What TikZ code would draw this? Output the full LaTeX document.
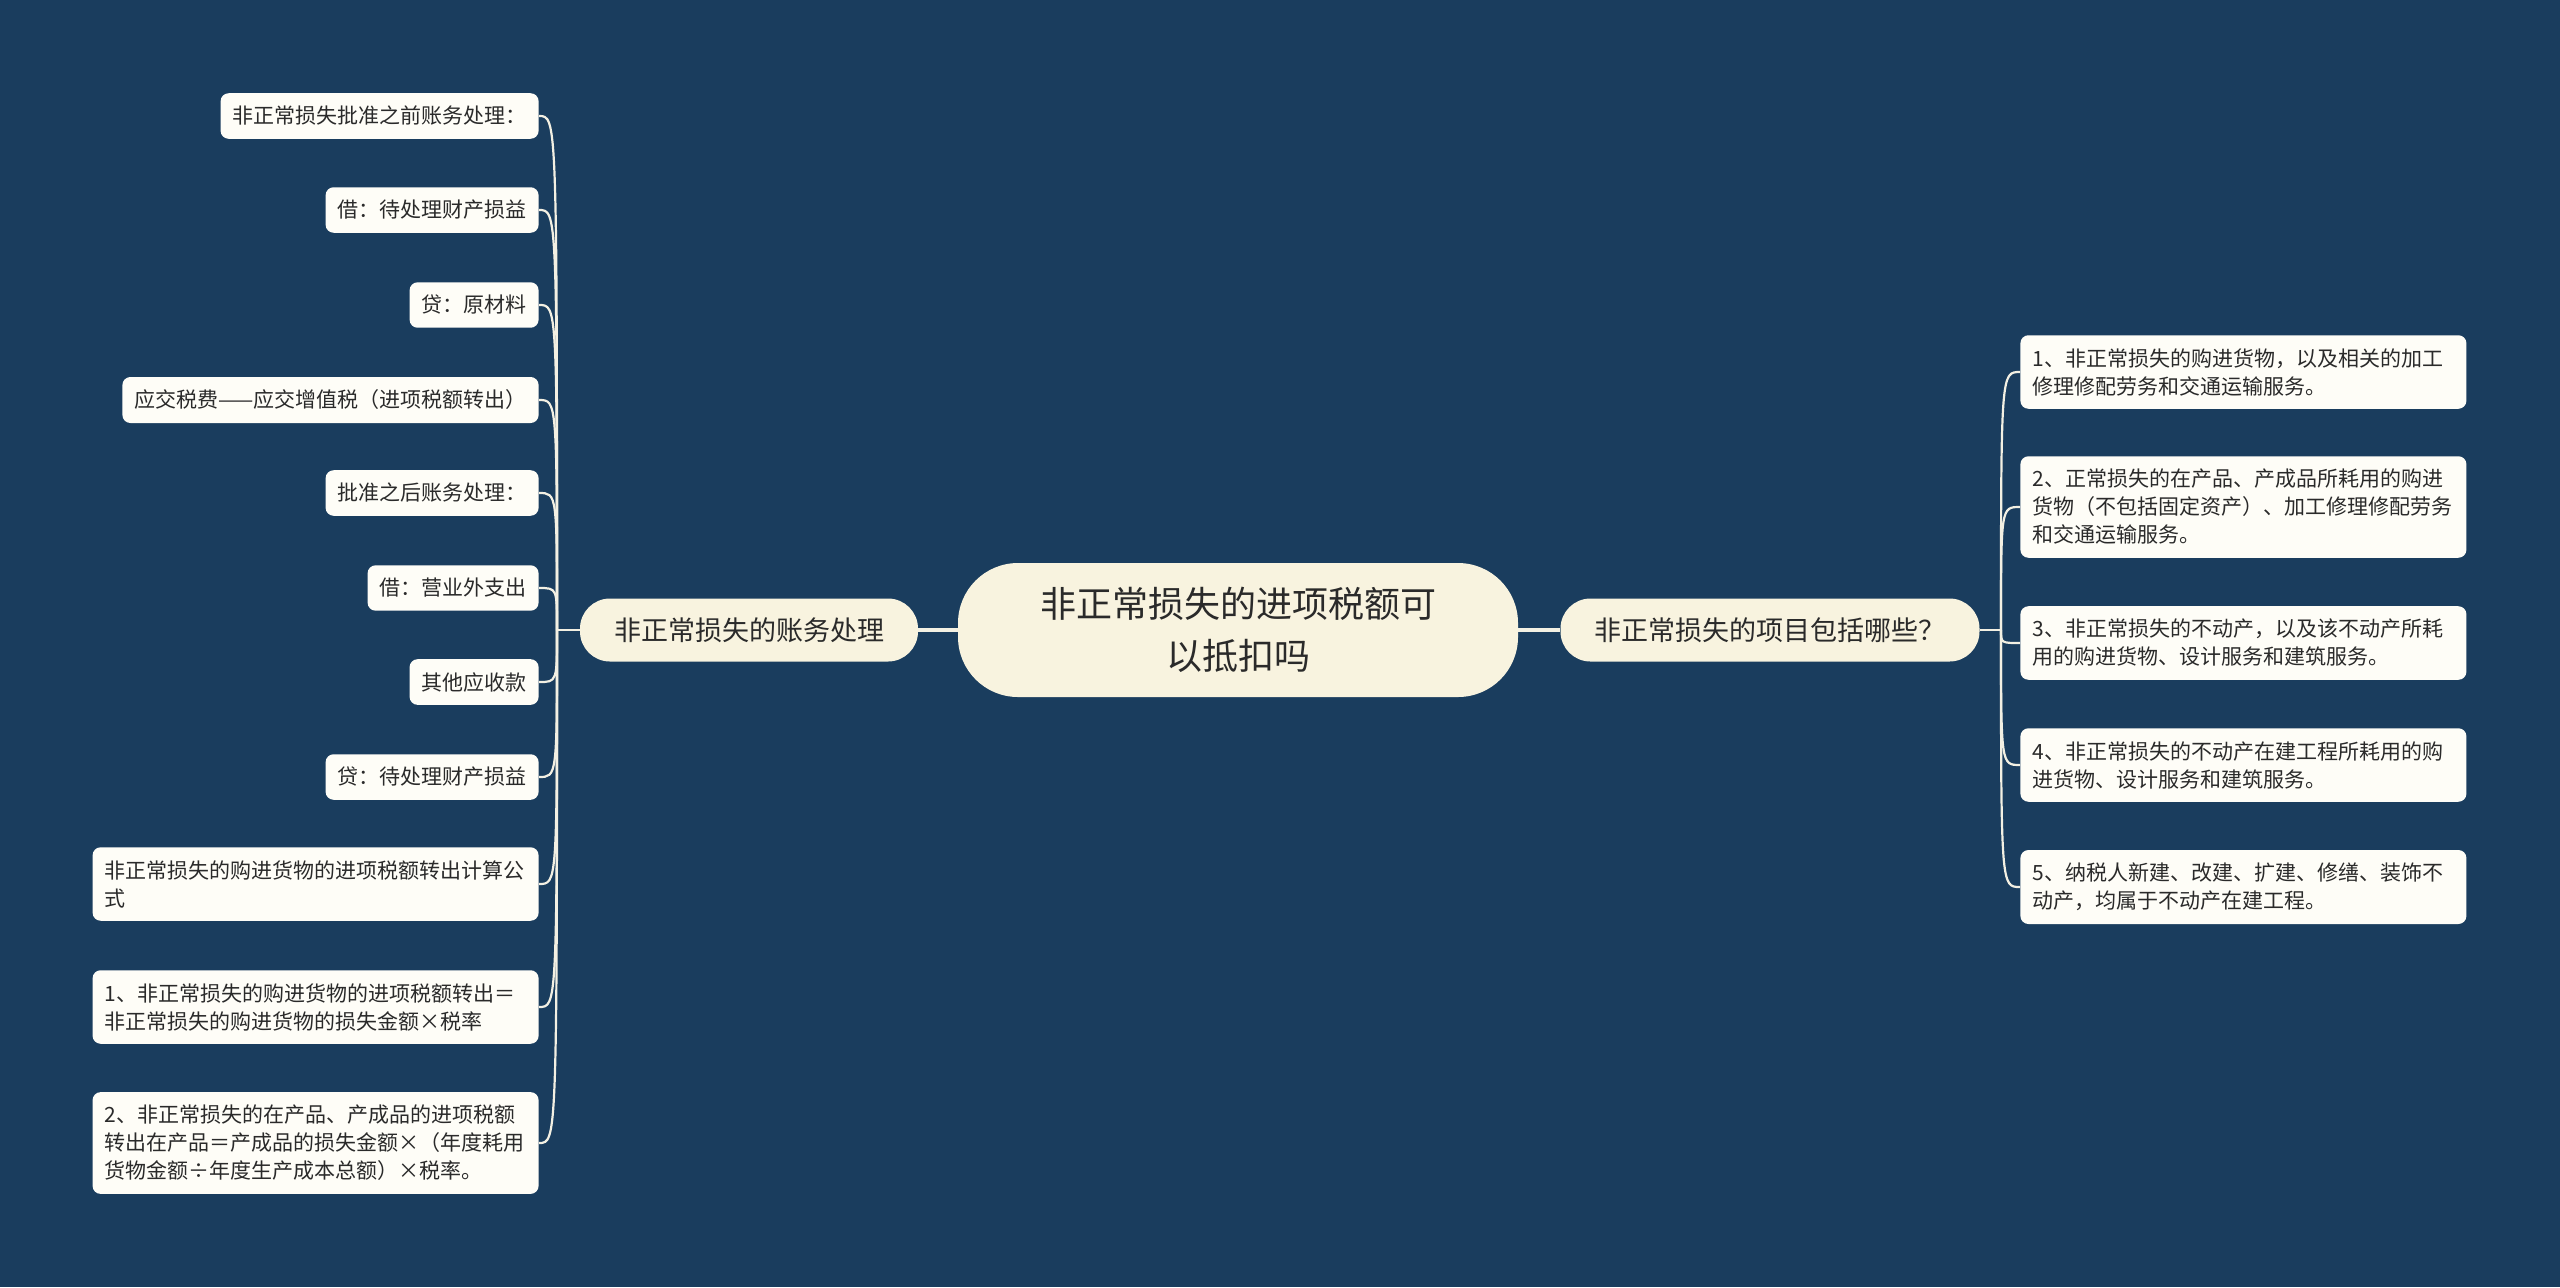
\documentclass[tikz,border=0pt]{standalone}
\usepackage{fontspec}
\newfontfamily\cjk{Noto Sans CJK SC}
\usepackage{xcolor}
\definecolor{bgblue}{HTML}{1A3D5E}
\definecolor{cream}{HTML}{F8F3DF}
\definecolor{leafwhite}{HTML}{FEFDF7}
\definecolor{linecol}{HTML}{F3F0E3}
\definecolor{inkcol}{HTML}{2A2A2A}

\tikzset{
    rootbox/.style={fill=cream, text=inkcol, rounded corners=30pt, minimum width=280pt, minimum height=67pt,
        align=center, font=\cjk\fontsize{18pt}{26pt}\selectfont},
    branchbox/.style={fill=cream, text=inkcol, rounded corners=15pt, minimum height=31.5pt, inner xsep=17pt,
        font=\cjk\fontsize{13.5pt}{16pt}\selectfont},
    leaf/.style={fill=leafwhite, text=inkcol, rounded corners=4pt, inner xsep=6pt, inner ysep=6.5pt,
        align=left, font=\cjk\fontsize{10.5pt}{14pt}\selectfont},
    leafwide/.style={leaf, text width=211pt},
    trunk/.style={linecol, line width=1.6pt},
    twig/.style={linecol, line width=1.1pt}
}

\begin{document}
\begin{tikzpicture}[x=0.5pt, y=-0.5pt]
        \fill [bgblue] (0,0) rectangle (2560,1287);

        % centre and the two branches
        \node [rootbox] (root) at (1238,630) {非正常损失的进项税额可\\以抵扣吗};
        \node [branchbox] (acct) at (749,630) {非正常损失的账务处理};
        \node [branchbox] (items) at (1770,630) {非正常损失的项目包括哪些？};
        \draw [trunk] (root.west) -- (acct.east);
        \draw [trunk] (root.east) -- (items.west);

        \coordinate (lj) at (557,630);
        \coordinate (rj) at (2001,630);
        \draw [twig] (acct.west) -- (lj);
        \draw [twig] (items.east) -- (rj);

        % left side
        \foreach \i/\y/\txt in {1/116/{非正常损失批准之前账务处理：},
                                2/210/{借：待处理财产损益},
                                3/305/{贷：原材料},
                                4/400/{应交税费——应交增值税（进项税额转出）},
                                5/493/{批准之后账务处理：},
                                6/588/{借：营业外支出},
                                7/682/{其他应收款},
                                8/777/{贷：待处理财产损益}} {
            \node [leaf, anchor=east] (l\i) at (539,\y) {\txt};
            \draw [twig] (lj) .. controls (lj |- l\i.east) .. (l\i.east);
        }
        \foreach \i/\y/\txt in {9/884/{非正常损失的购进货物的进项税额转出计算公\\式},
                                10/1007/{1、非正常损失的购进货物的进项税额转出＝\\非正常损失的购进货物的损失金额×税率},
                                11/1143/{2、非正常损失的在产品、产成品的进项税额\\转出在产品＝产成品的损失金额×（年度耗用\\货物金额÷年度生产成本总额）×税率。}} {
            \node [leafwide, anchor=east] (l\i) at (539,\y) {\txt};
            \draw [twig] (lj) .. controls (lj |- l\i.east) .. (l\i.east);
        }

        % right side
        \foreach \i/\y/\txt in {1/372/{1、非正常损失的购进货物，以及相关的加工\\修理修配劳务和交通运输服务。},
                                2/507/{2、正常损失的在产品、产成品所耗用的购进\\货物（不包括固定资产）、加工修理修配劳务\\和交通运输服务。},
                                3/643/{3、非正常损失的不动产，以及该不动产所耗\\用的购进货物、设计服务和建筑服务。},
                                4/765/{4、非正常损失的不动产在建工程所耗用的购\\进货物、设计服务和建筑服务。},
                                5/887/{5、纳税人新建、改建、扩建、修缮、装饰不\\动产，均属于不动产在建工程。}} {
            \node [leafwide, anchor=west] (r\i) at (2020,\y) {\txt};
            \draw [twig] (rj) .. controls (rj |- r\i.west) .. (r\i.west);
        }
    \end{tikzpicture}
\end{document}
